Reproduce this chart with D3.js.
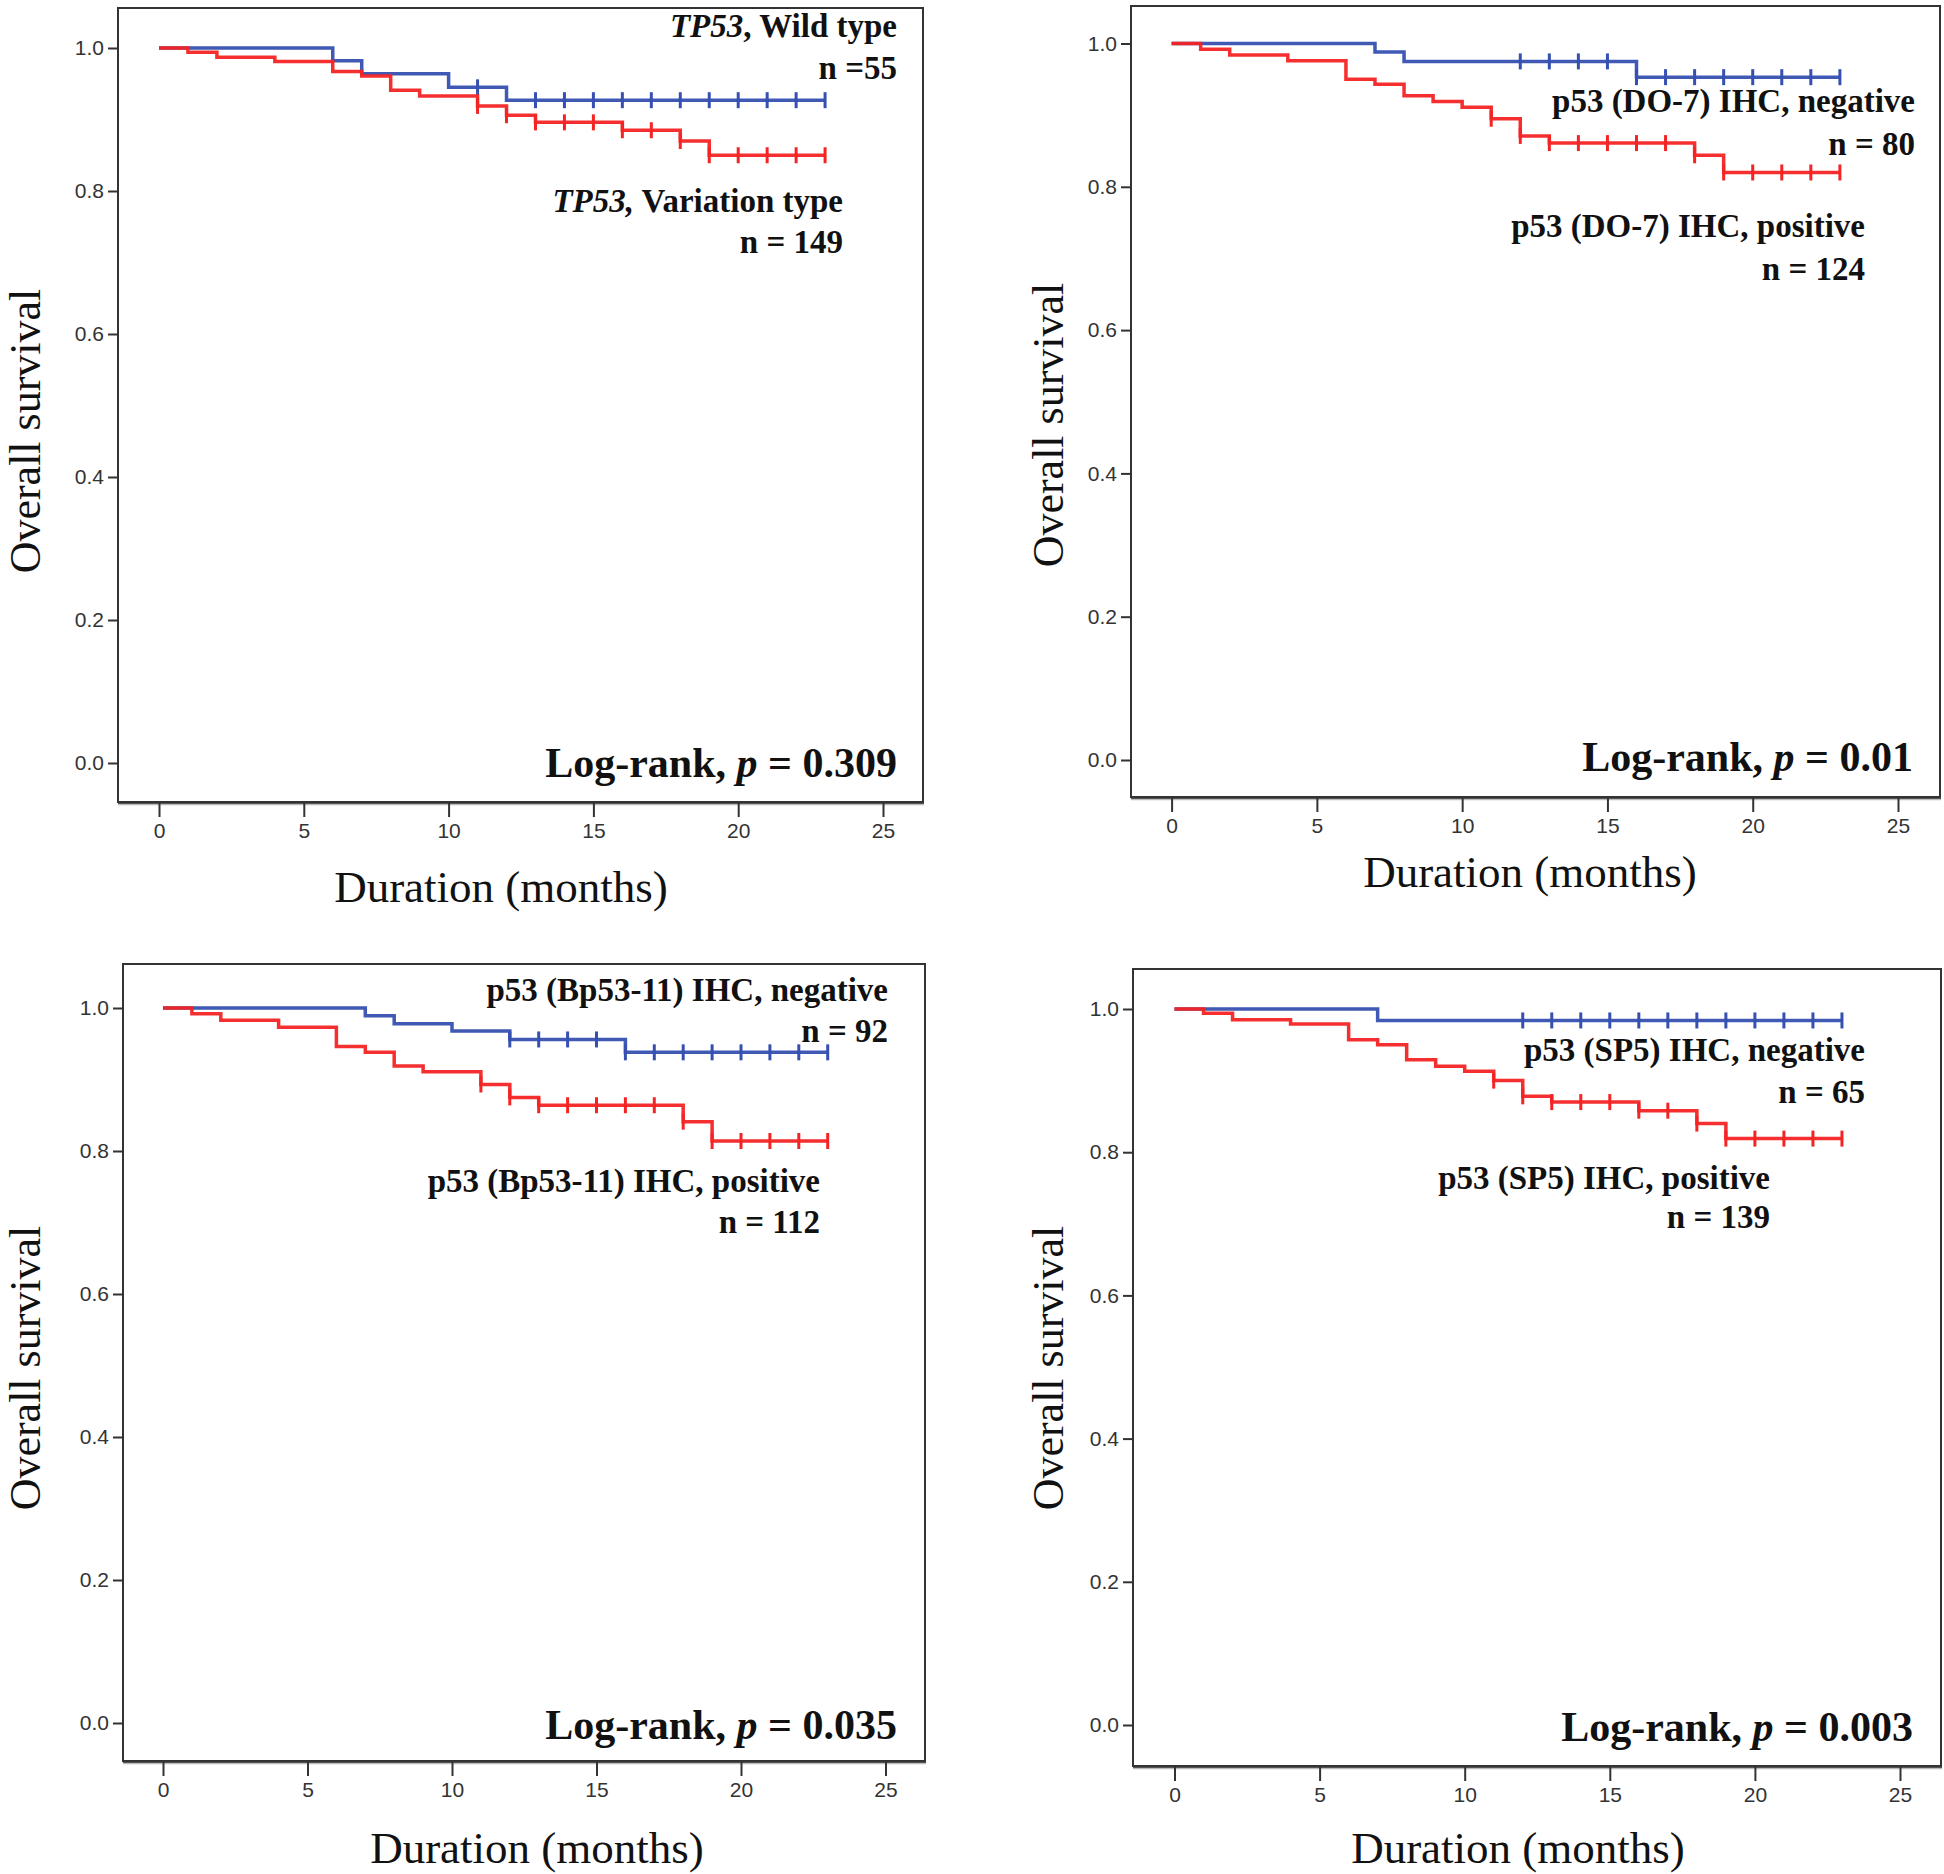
<!DOCTYPE html>
<html>
<head>
<meta charset="utf-8">
<script src="https://cdn.jsdelivr.net/npm/d3@7"></script>
<style>
  html, body { margin: 0; padding: 0; background: #fff; }
  svg { display: block; }
</style>
</head>
<body>
<svg id="chart" width="1944" height="1874"></svg>
<script>
// ---------------- DATA ----------------
const xTickValues = [0, 5, 10, 15, 20, 25];
const yTickValues = [0.0, 0.2, 0.4, 0.6, 0.8, 1.0];
const xAxisTitle = "Duration (months)";
const yAxisTitle = "Overall survival";

// Panel A: TP53 mutation status
const aBlueTimes = [0, 6, 7, 10, 12, 23];
const aBlueSurv  = [1.0, 0.982, 0.964, 0.945, 0.927, 0.927];
const aBlueCens  = [11, 13, 14, 15, 16, 17, 18, 19, 20, 21, 22, 23];
const aRedTimes  = [0, 1, 2, 4, 6, 7, 8, 9, 11, 12, 13, 16, 18, 19, 23];
const aRedSurv   = [1.0, 0.994, 0.987, 0.981, 0.967, 0.961, 0.941, 0.933, 0.919, 0.906, 0.896, 0.885, 0.870, 0.850, 0.850];
const aRedCens   = [11, 12, 13, 14, 15, 16, 17, 18, 19, 20, 21, 22, 23];

// Panel B: p53 (DO-7) IHC
const bBlueTimes = [0, 7, 8, 16, 23];
const bBlueSurv  = [1.0, 0.988, 0.975, 0.953, 0.953];
const bBlueCens  = [12, 13, 14, 15, 16, 17, 18, 19, 20, 21, 22, 23];
const bRedTimes  = [0, 1, 2, 4, 6, 7, 8, 9, 10, 11, 12, 13, 18, 19, 23];
const bRedSurv   = [1.0, 0.992, 0.984, 0.976, 0.950, 0.943, 0.927, 0.919, 0.911, 0.895, 0.871, 0.861, 0.844, 0.820, 0.820];
const bRedCens   = [11, 12, 13, 14, 15, 16, 17, 18, 19, 20, 21, 22, 23];

// Panel C: p53 (Bp53-11) IHC
const cBlueTimes = [0, 7, 8, 10, 12, 16, 23];
const cBlueSurv  = [1.0, 0.989, 0.978, 0.968, 0.956, 0.938, 0.938];
const cBlueCens  = [12, 13, 14, 15, 16, 17, 18, 19, 20, 21, 22, 23];
const cRedTimes  = [0, 1, 2, 4, 6, 7, 8, 9, 11, 12, 13, 18, 19, 23];
const cRedSurv   = [1.0, 0.992, 0.983, 0.973, 0.946, 0.938, 0.919, 0.911, 0.893, 0.875, 0.864, 0.841, 0.814, 0.814];
const cRedCens   = [11, 12, 13, 14, 15, 16, 17, 18, 19, 20, 21, 22, 23];

// Panel D: p53 (SP5) IHC
const dBlueTimes = [0, 7, 23];
const dBlueSurv  = [1.0, 0.984, 0.984];
const dBlueCens  = [12, 13, 14, 15, 16, 17, 18, 19, 20, 21, 22, 23];
const dRedTimes  = [0, 1, 2, 4, 6, 7, 8, 9, 10, 11, 12, 13, 16, 18, 19, 23];
const dRedSurv   = [1.0, 0.994, 0.985, 0.979, 0.957, 0.950, 0.929, 0.920, 0.913, 0.900, 0.878, 0.870, 0.858, 0.840, 0.819, 0.819];
const dRedCens   = [11, 12, 13, 14, 15, 16, 17, 18, 19, 20, 21, 22, 23];

// Labels (text pieces: [text, italic])
const aBlueLabel = [[["TP53", true], [", Wild type", false]], [["n =55", false]]];
const aRedLabel  = [[["TP53,", true], [" Variation type", false]], [["n = 149", false]]];
const bBlueLabel = [[["p53 (DO-7) IHC, negative", false]], [["n = 80", false]]];
const bRedLabel  = [[["p53 (DO-7) IHC, positive", false]], [["n = 124", false]]];
const cBlueLabel = [[["p53 (Bp53-11) IHC, negative", false]], [["n = 92", false]]];
const cRedLabel  = [[["p53 (Bp53-11) IHC, positive", false]], [["n = 112", false]]];
const dBlueLabel = [[["p53 (SP5) IHC, negative", false]], [["n = 65", false]]];
const dRedLabel  = [[["p53 (SP5) IHC, positive", false]], [["n = 139", false]]];
const pValues = ["0.309", "0.01", "0.035", "0.003"];

// ---------------- LAYOUT ----------------
const layout = [
  { left: 118, right: 923, top: 8, bottom: 802, x0: 159, x25: 883, y1: 48, y0: 763,
    ytx: 40, yty: 431, xtx: 501, xty: 902, prx: 897, pry: 777,
    blueLab: { x: 897, y: [37, 79] }, redLab: { x: 843, y: [212, 253] } },
  { left: 1131, right: 1940, top: 6, bottom: 797, x0: 1171.6, x25: 1898, y1: 43.5, y0: 760,
    ytx: 1063, yty: 425, xtx: 1530, xty: 887, prx: 1913, pry: 771,
    blueLab: { x: 1915, y: [112, 155] }, redLab: { x: 1865, y: [237, 280] } },
  { left: 123, right: 925, top: 964, bottom: 1761, x0: 163, x25: 885.5, y1: 1008, y0: 1723,
    ytx: 40, yty: 1368, xtx: 537, xty: 1863, prx: 897, pry: 1739,
    blueLab: { x: 888, y: [1001, 1042] }, redLab: { x: 820, y: [1192, 1233] } },
  { left: 1133, right: 1941, top: 969, bottom: 1766, x0: 1174.5, x25: 1900, y1: 1009, y0: 1725,
    ytx: 1063, yty: 1368, xtx: 1518, xty: 1863, prx: 1913, pry: 1741,
    blueLab: { x: 1865, y: [1061, 1103] }, redLab: { x: 1770, y: [1189, 1228] } }
];

const panelData = [
  { blue: [aBlueTimes, aBlueSurv, aBlueCens], red: [aRedTimes, aRedSurv, aRedCens], bl: aBlueLabel, rl: aRedLabel },
  { blue: [bBlueTimes, bBlueSurv, bBlueCens], red: [bRedTimes, bRedSurv, bRedCens], bl: bBlueLabel, rl: bRedLabel },
  { blue: [cBlueTimes, cBlueSurv, cBlueCens], red: [cRedTimes, cRedSurv, cRedCens], bl: cBlueLabel, rl: cRedLabel },
  { blue: [dBlueTimes, dBlueSurv, dBlueCens], red: [dRedTimes, dRedSurv, dRedCens], bl: dBlueLabel, rl: dRedLabel }
];

const BLUE = "#3550b0";
const RED = "#f42424";
const SERIF = "'Liberation Serif', 'Times New Roman', Times, serif";
const SANS = "'Liberation Sans', Arial, Helvetica, sans-serif";

const svg = d3.select("#chart");

function survAt(times, surv, t) {
  let v = surv[0];
  for (let i = 0; i < times.length; i++) { if (times[i] <= t) v = surv[i]; }
  return v;
}

layout.forEach((L, i) => {
  const D = panelData[i];
  const g = svg.append("g");
  const x = d3.scaleLinear().domain([0, 25]).range([L.x0, L.x25]);
  const y = d3.scaleLinear().domain([0, 1]).range([L.y0, L.y1]);

  // frame
  g.append("rect")
    .attr("x", L.left).attr("y", L.top)
    .attr("width", L.right - L.left).attr("height", L.bottom - L.top)
    .attr("fill", "none").attr("stroke", "#333").attr("stroke-width", 2);
  g.append("line")
    .attr("x1", L.left).attr("x2", L.right + 1)
    .attr("y1", L.bottom + 0.5).attr("y2", L.bottom + 0.5)
    .attr("stroke", "#333").attr("stroke-width", 3);
  g.append("line")
    .attr("x1", L.left).attr("x2", L.right + 1)
    .attr("y1", L.bottom + 2.5).attr("y2", L.bottom + 2.5)
    .attr("stroke", "#bbb").attr("stroke-width", 1.5);

  // y axis
  const yAxis = d3.axisLeft(y).tickValues(yTickValues).tickFormat(d3.format(".1f"))
    .tickSize(10).tickPadding(4);
  const ya = g.append("g").attr("transform", `translate(${L.left},0)`).call(yAxis);
  ya.select(".domain").remove();
  ya.selectAll(".tick line").attr("stroke", "#333").attr("stroke-width", 2);
  ya.selectAll(".tick text").attr("font-family", SANS).attr("font-size", 21).attr("fill", "#333");

  // x axis
  const xAxis = d3.axisBottom(x).tickValues(xTickValues).tickFormat(d3.format("d"))
    .tickSize(14).tickPadding(6);
  const xa = g.append("g").attr("transform", `translate(0,${L.bottom + 1})`).call(xAxis);
  xa.select(".domain").remove();
  xa.selectAll(".tick line").attr("stroke", "#333").attr("stroke-width", 2);
  xa.selectAll(".tick text").attr("font-family", SANS).attr("font-size", 21).attr("fill", "#333");

  // axis titles
  g.append("text")
    .attr("transform", `translate(${L.ytx},${L.yty}) rotate(-90)`)
    .attr("text-anchor", "middle")
    .attr("font-family", SERIF).attr("font-size", 44).attr("fill", "#111")
    .text(yAxisTitle);
  g.append("text")
    .attr("x", L.xtx).attr("y", L.xty)
    .attr("text-anchor", "middle")
    .attr("font-family", SERIF).attr("font-size", 45).attr("fill", "#111")
    .text(xAxisTitle);

  // curves
  const stepLine = d3.line().x(d => x(d[0])).y(d => y(d[1])).curve(d3.curveStepAfter);
  [["blue", BLUE], ["red", RED]].forEach(([key, color]) => {
    const [times, surv, cens] = D[key];
    const pts = times.map((t, k) => [t, surv[k]]);
    const cg = g.append("g");
    cg.append("path").attr("d", stepLine(pts))
      .attr("fill", "none").attr("stroke", color).attr("stroke-width", 3.5)
      .attr("stroke-opacity", 0.95);
    cg.selectAll("line.cens").data(cens).enter().append("line")
      .attr("x1", t => x(t)).attr("x2", t => x(t))
      .attr("y1", t => y(survAt(times, surv, t)) - 8)
      .attr("y2", t => y(survAt(times, surv, t)) + 8)
      .attr("stroke", color).attr("stroke-width", 3);
  });

  // legend labels
  function drawLabel(lines, pos) {
    lines.forEach((parts, li) => {
      const t = g.append("text")
        .attr("x", pos.x).attr("y", pos.y[li])
        .attr("text-anchor", "end")
        .attr("font-family", SERIF).attr("font-size", 33)
        .attr("font-weight", "bold").attr("fill", "#111");
      parts.forEach(([s, it]) => {
        t.append("tspan").attr("font-style", it ? "italic" : "normal").text(s);
      });
    });
  }
  drawLabel(D.bl, L.blueLab);
  drawLabel(D.rl, L.redLab);

  // log-rank
  const pt = g.append("text")
    .attr("x", L.prx).attr("y", L.pry)
    .attr("text-anchor", "end")
    .attr("font-family", SERIF).attr("font-size", 42)
    .attr("font-weight", "bold").attr("fill", "#111");
  pt.append("tspan").text("Log-rank, ");
  pt.append("tspan").attr("font-style", "italic").text("p");
  pt.append("tspan").text(" = " + pValues[i]);
});
</script>
</body>
</html>
